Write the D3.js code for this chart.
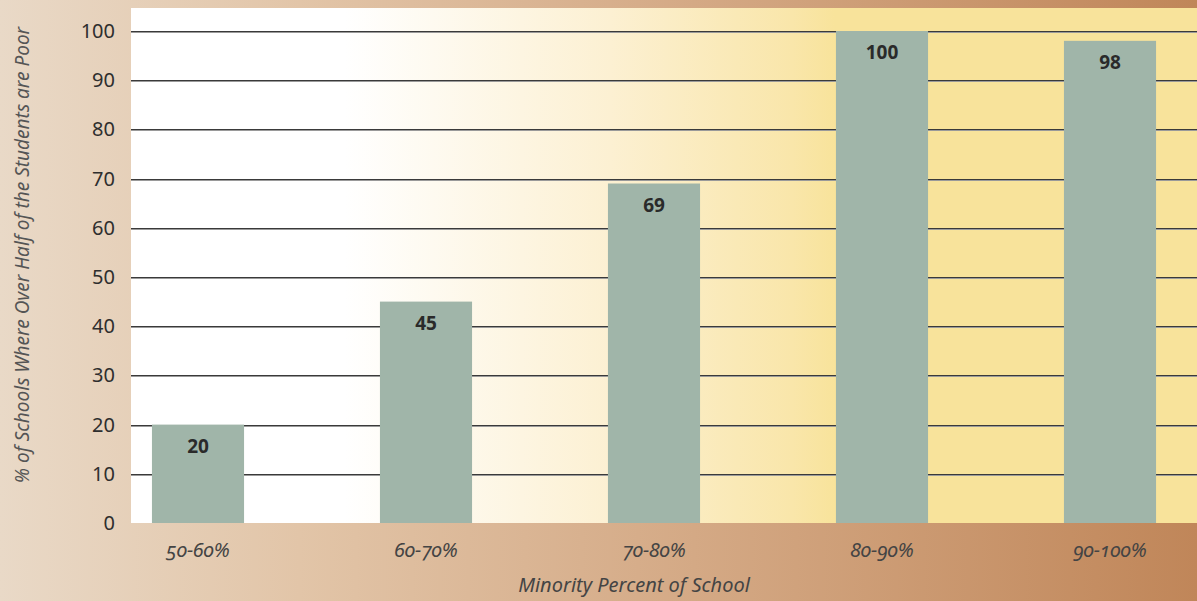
<!DOCTYPE html>
<html>
<head>
<meta charset="utf-8">
<script src="https://cdn.jsdelivr.net/npm/d3@7"></script>
<style>
  html, body { margin: 0; padding: 0; background: #e9d9c7; }
  svg { display: block; }
  .num { font-family: "Noto Sans", Lato, sans-serif; }
  .ital { font-family: "Noto Sans", Lato, sans-serif; font-style: italic; font-variant-numeric: oldstyle-nums; font-feature-settings: "onum" 1; }
</style>
</head>
<body>
<script>
// Share of schools where over half of the students are poor, by minority share
const categories = ["50-60%", "60-70%", "70-80%", "80-90%", "90-100%"];
const values = [20, 45, 69, 100, 98];
const yTicks = [0, 10, 20, 30, 40, 50, 60, 70, 80, 90, 100];
const yTitle = "% of Schools Where Over Half of the Students are Poor";
const xTitle = "Minority Percent of School";

const W = 1197, H = 601;
const plot = { left: 131, right: 1197, top: 8, bottom: 523 };

const svg = d3.select("body").append("svg").attr("width", W).attr("height", H);
const defs = svg.append("defs");

// Frame gradient: light beige on the left to warm brown on the right
const frameGrad = defs.append("linearGradient").attr("id", "frameGrad")
  .attr("x1", 0).attr("x2", 1).attr("y1", 0).attr("y2", 0);
[[0, "#e9d9c7"], [0.25, "#e2c5a8"], [0.58, "#d4a985"], [1, "#c08659"]]
  .forEach(([o, c]) => frameGrad.append("stop").attr("offset", o).attr("stop-color", c));

// Plot gradient: white fading into pale yellow
const plotGrad = defs.append("linearGradient").attr("id", "plotGrad")
  .attr("x1", 0).attr("x2", 1).attr("y1", 0).attr("y2", 0);
[[0, "#ffffff"], [0.2, "#ffffff"], [0.45, "#fcf0d2"], [0.62, "#f9e6aa"], [0.66, "#f8e39b"], [1, "#f8e39b"]]
  .forEach(([o, c]) => plotGrad.append("stop").attr("offset", o).attr("stop-color", c));

svg.append("rect").attr("width", W).attr("height", H).attr("fill", "url(#frameGrad)");
svg.append("rect")
  .attr("x", plot.left).attr("y", plot.top)
  .attr("width", plot.right - plot.left).attr("height", plot.bottom - plot.top)
  .attr("fill", "url(#plotGrad)");

const y = d3.scaleLinear().domain([0, 100]).range([523, 31]);
const x = d3.scaleBand().domain(categories).range([84, 1224])
  .paddingInner(0.596).paddingOuter(0.298);

// Horizontal grid lines (none at zero, which is the plot's lower edge)
const grid = svg.append("g");
yTicks.filter(t => t > 0).forEach(t => {
  grid.append("line")
    .attr("x1", plot.left).attr("x2", plot.right)
    .attr("y1", Math.round(y(t)) + 1.5).attr("y2", Math.round(y(t)) + 1.5)
    .attr("stroke", "#9a9a9a").attr("stroke-width", 1);
  grid.append("line")
    .attr("x1", plot.left).attr("x2", plot.right)
    .attr("y1", Math.round(y(t)) + 0.5).attr("y2", Math.round(y(t)) + 0.5)
    .attr("stroke", "#3a3a3a").attr("stroke-width", 1.2);
});

// Bars
svg.append("g").selectAll("rect")
  .data(values)
  .join("rect")
  .attr("x", (d, i) => x(categories[i]))
  .attr("width", x.bandwidth())
  .attr("y", d => y(d))
  .attr("height", d => y(0) - y(d))
  .attr("fill", "#a0b5a9");

// Value labels inside the top of each bar
svg.append("g").selectAll("text")
  .data(values)
  .join("text")
  .attr("class", "num")
  .attr("x", (d, i) => x(categories[i]) + x.bandwidth() / 2)
  .attr("y", d => y(d) + 28)
  .attr("text-anchor", "middle")
  .attr("font-size", 19)
  .attr("font-weight", 700)
  .attr("fill", "#2a2a2a")
  .text(d => d);

// Y axis labels
const yAxis = d3.axisLeft(y).tickValues(yTicks).tickSize(0).tickPadding(0);
const yg = svg.append("g").attr("transform", "translate(115,0)").call(yAxis);
yg.select(".domain").remove();
yg.selectAll("text")
  .attr("class", "num")
  .attr("font-size", 20)
  .attr("fill", "#2e2e2e")
  .attr("dy", "0.32em");

// X axis labels
const xAxis = d3.axisBottom(x).tickSize(0).tickPadding(0);
const xg = svg.append("g").attr("transform", `translate(0,${plot.bottom})`).call(xAxis);
xg.select(".domain").remove();
xg.selectAll("text")
  .attr("class", "ital")
  .attr("font-size", 20)
  .attr("fill", "#444")
  .attr("y", 34)
  .attr("dy", 0);

// Axis titles
svg.append("text")
  .attr("class", "ital")
  .attr("transform", "translate(29,255) rotate(-90)")
  .attr("text-anchor", "middle")
  .attr("font-size", 19)
  .attr("fill", "#555")
  .text(yTitle);

svg.append("text")
  .attr("class", "ital")
  .attr("x", 634).attr("y", 592)
  .attr("text-anchor", "middle")
  .attr("font-size", 20)
  .attr("fill", "#444")
  .text(xTitle);
</script>
</body>
</html>
